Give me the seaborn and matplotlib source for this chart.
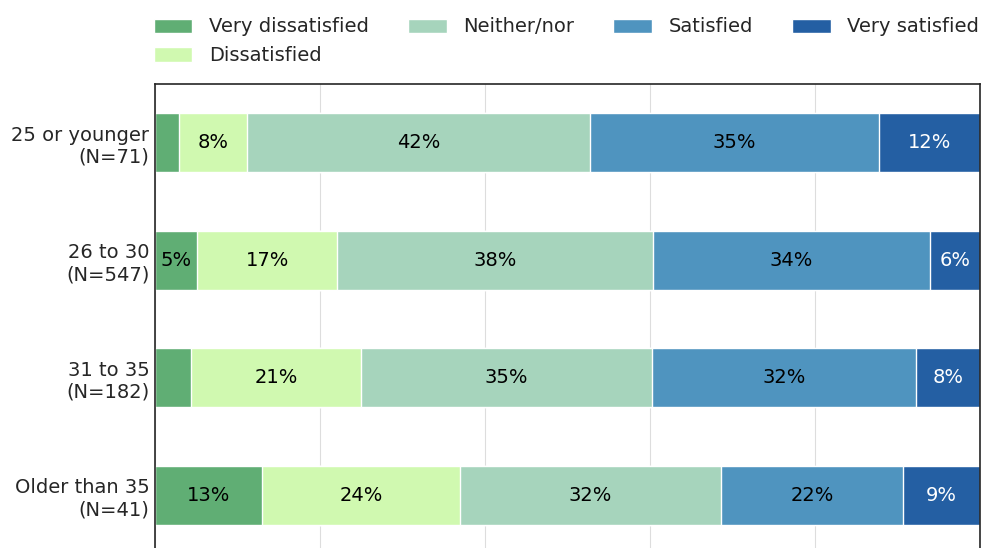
import numpy as np
import pandas as pd
import seaborn as sns
import matplotlib
matplotlib.use("Agg")
import matplotlib.pyplot as plt
from matplotlib.patches import Patch

# 응답 범주와 연령대별 비율(%)
groups = ["25 or younger\n(N=71)", "26 to 30\n(N=547)", "31 to 35\n(N=182)", "Older than 35\n(N=41)"]
answers = ["Very dissatisfied", "Dissatisfied", "Neither/nor", "Satisfied", "Very satisfied"]
very_dissatisfied = [2.9, 5.1, 4.4, 13.0]
dissatisfied = [8.2, 17.0, 20.6, 24.0]
neither = [41.6, 38.3, 35.3, 31.6]
satisfied = [35.0, 33.6, 32.0, 22.1]
very_satisfied = [12.2, 6.1, 7.8, 9.3]
colors = ["#60ae74", "#d0f9b0", "#a6d4bc", "#4f94bf", "#245fa3"]
label_colors = ["black", "black", "black", "black", "white"]

sns.set_style("whitegrid", {"axes.edgecolor": "#262626", "grid.color": "#dddddd"})
plt.rcParams["font.family"] = ["DejaVu Sans"]

df = pd.DataFrame(
    {"group": groups, answers[0]: very_dissatisfied, answers[1]: dissatisfied,
     answers[2]: neither, answers[3]: satisfied, answers[4]: very_satisfied}
)
shares = df[answers].div(df[answers].sum(axis=1), axis=0)
cum = shares.cumsum(axis=1)

fig = plt.figure(figsize=(9.86, 5.48), dpi=100)
ax = fig.add_axes([155 / 986, 1 - 554 / 548, 825 / 986, 470 / 548])

# 누적값을 큰 것부터 그려서 가로 누적 막대를 만듭니다
for i in reversed(range(len(answers))):
    plot_df = pd.DataFrame({"group": groups, "value": cum[answers[i]].values})
    sns.barplot(data=plot_df, x="value", y="group", orient="h", color=colors[i],
                width=0.5, saturation=1, ax=ax, zorder=2)

# 막대 가운데에 비율 표시 (5% 이상만)
for r in range(len(groups)):
    for i, a in enumerate(answers):
        v = shares.loc[r, a]
        if v * 100 >= 5:
            center = cum.loc[r, a] - v / 2
            ax.text(center, r, f"{round(v * 100):.0f}%", ha="center", va="center",
                    fontsize=14, color=label_colors[i])

ax.set_xlim(0, 1)
ax.set_ylim(3.5, -0.5)
ax.set_xticks([0, 0.2, 0.4, 0.6, 0.8, 1.0])
ax.xaxis.grid(True, zorder=0)
ax.yaxis.grid(False)
ax.set_axisbelow(True)
ax.set_xlabel("")
ax.set_ylabel("")
ax.tick_params(axis="y", labelsize=14, labelcolor="#262626", length=0, pad=4)
ax.tick_params(axis="x", labelbottom=False, length=0)
for s in ax.spines.values():
    s.set_linewidth(1.2)

handles = [Patch(facecolor=c, label=a) for c, a in zip(colors, answers)]
fig.legend(handles=handles, labels=answers, ncol=4, frameon=False, fontsize=14,
           loc="upper left", bbox_to_anchor=(136 / 986, 1.0), handlelength=2.0,
           handleheight=0.75, handletextpad=0.85, columnspacing=2.0,
           labelspacing=0.5, labelcolor="#262626")

fig.savefig("out.png", dpi=100)
